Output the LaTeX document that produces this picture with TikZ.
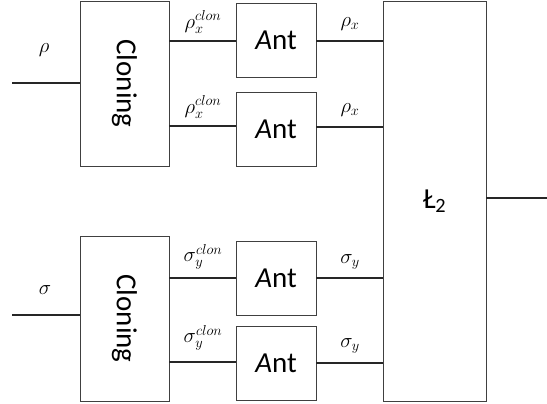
\documentclass[tikz,border=0pt]{standalone}
\usepackage{fontspec}
\setmainfont{Carlito}
\begin{document}
\begin{tikzpicture}[x=1pt,y=-1pt,
  blk/.style={draw=black!75,line width=0.8pt,inner sep=0pt,font=\fontsize{29}{31}\selectfont},
  wire/.style={line width=1.6pt,black!85},
  lbl/.style={font=\fontsize{22}{24}\selectfont,inner sep=0pt}]
\useasboundingbox (0,0) rectangle (547,404);
% boxes
\node[blk,minimum width=89pt,minimum height=165pt] (c1) at (124.5,83.5) {\rotatebox{-90}{Cloning}};
\node[blk,minimum width=89pt,minimum height=165pt] (c2) at (124.5,318.5) {\rotatebox{-90}{Cloning}};
\node[blk,minimum width=80pt,minimum height=74pt] (a1) at (276,40) {\textit{A}nt};
\node[blk,minimum width=80pt,minimum height=74pt] (a2) at (276,129) {\textit{A}nt};
\node[blk,minimum width=80pt,minimum height=74pt] (a3) at (276,278.5) {\textit{A}nt};
\node[blk,minimum width=80pt,minimum height=74pt] (a4) at (276,363) {\textit{A}nt};
\node[blk,minimum width=103pt,minimum height=400pt] (l2) at (434.5,201) {Ł\textsubscript{2}};
% free ends
\coordinate (inr) at (12,83);
\coordinate (ins) at (12,315);
\coordinate (out) at (547,198);
% wires
\draw[wire] (inr) -- (inr -| c1.west);
\draw[wire] (ins) -- (ins -| c2.west);
\draw[wire] (c1.east |- 0,41) -- (a1.west |- 0,41);
\draw[wire] (c1.east |- 0,126) -- (a2.west |- 0,126);
\draw[wire] (c2.east |- 0,278) -- (a3.west |- 0,278);
\draw[wire] (c2.east |- 0,362) -- (a4.west |- 0,362);
\draw[wire] (a1.east |- 0,41) -- (l2.west |- 0,41);
\draw[wire] (a2.east |- 0,127) -- (l2.west |- 0,127);
\draw[wire] (a3.east |- 0,278) -- (l2.west |- 0,278);
\draw[wire] (a4.east |- 0,363) -- (l2.west |- 0,363);
\draw[wire] (l2.east |- out) -- (out);
% labels
\node[lbl] (lr) at (44,50) {$\rho$};
\node[lbl] (ls) at (45,290) {$\sigma$};
\node[lbl] (r1) at (203,22) {$\rho_x^{clon}$};
\node[lbl] (r2) at (203,107) {$\rho_x^{clon}$};
\node[lbl] (s1) at (203,257) {$\sigma_y^{clon}$};
\node[lbl] (s2) at (203,338) {$\sigma_y^{clon}$};
\node[lbl] (r3) at (350,24) {$\rho_x$};
\node[lbl] (r4) at (350,110) {$\rho_x$};
\node[lbl] (s3) at (350,262) {$\sigma_y$};
\node[lbl] (s4) at (350,346) {$\sigma_y$};
\end{tikzpicture}
\end{document}
